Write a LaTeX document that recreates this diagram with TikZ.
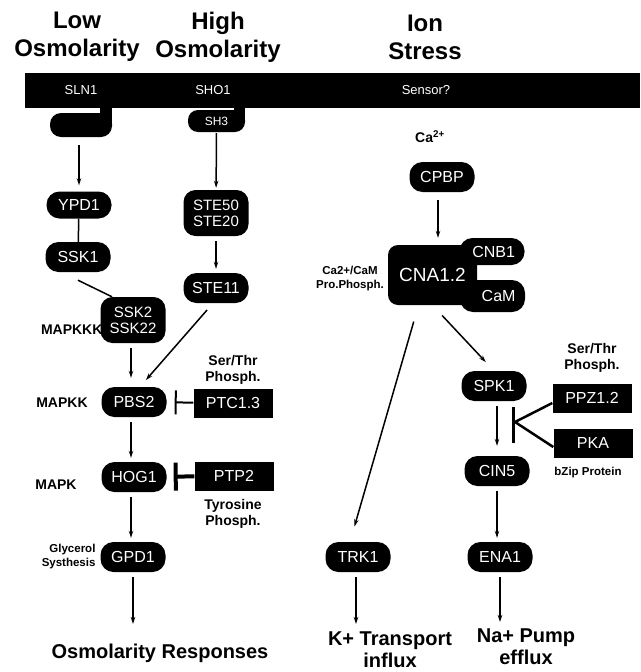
\documentclass[tikz,border=0pt]{standalone}
\usepackage{fontspec}
\setmainfont{Liberation Sans}
\usepackage{tikz}
\usetikzlibrary{shapes,arrows.meta}

\begin{document}
\begin{tikzpicture}[x=1pt,y=-1pt,
    pill/.style={fill=black,text=white,rounded corners=13pt,minimum width=65pt,
                 minimum height=30pt,inner sep=0pt,font=\fontsize{16}{18}\selectfont},
    pilltwo/.style={pill,rounded corners=12pt,minimum height=46pt,align=center,
                 font=\fontsize{15}{16}\selectfont},
    lobe/.style={pill,text width=46pt,inner xsep=9pt,align=right},
    blackbox/.style={fill=black,text=white,minimum width=79pt,minimum height=29pt,
                 inner sep=0pt,font=\fontsize{16}{18}\selectfont},
    bartxt/.style={text=white,font=\fontsize{13}{15}\selectfont},
    headtxt/.style={font=\bfseries\fontsize{24}{28}\selectfont,align=center},
    endtxt/.style={font=\bfseries\fontsize{20}{22}\selectfont,align=center},
    lbl/.style={font=\bfseries\fontsize{14}{16}\selectfont,align=center},
    minorlbl/.style={font=\bfseries\fontsize{11.5}{14}\selectfont,align=center},
    arr/.style={-{Stealth[length=7pt,width=4.5pt]},line width=1.5pt,
                shorten <=5pt,shorten >=4pt},
    link/.style={line width=1.5pt},
    inh/.style={-{Bar[width=24pt]},line width=2pt},
    inhthick/.style={-{Bar[width=28pt]},line width=4pt},
  ]
  \useasboundingbox (0,0) rectangle (640,672);
  \clip (0,0) rectangle (640,672);

% stimulus headings
  \node[headtxt] (lowosm) at (77,37) {Low\\Osmolarity};
  \node[headtxt] (highosm) at (218,37) {High\\Osmolarity};
  \node[headtxt] (ionstress) at (425,37) {Ion\\Stress};

% membrane with sensors
  \fill (25,73) rectangle (640,108);
  \node[bartxt] (sln1) at (81,90) {SLN1};
  \node[bartxt] (sho1) at (213,90) {SHO1};
  \node[bartxt] (sensor) at (426,90) {Sensor?};
  \fill (100,100) rectangle (112,124);
  \node[fill=black,rounded corners=11pt,minimum width=62pt,minimum height=24pt,
        inner sep=0pt] (sln1hook) at (81,125) {};
  \fill (234,100) rectangle (245,121);
  \node[pill,minimum width=57pt,minimum height=22pt,rounded corners=10pt,
        font=\fontsize{12}{14}\selectfont] (sh3) at (216.5,121) {SH3};

% low / high osmolarity branches
  \node[pill,minimum height=27pt] (ypd1) at (79,205) {YPD1};
  \node[pill] (ssk1) at (78,257) {SSK1};
  \node[lbl,anchor=east] (mapkkk) at (106,330) {MAPKKK};
  \node[pilltwo] (ssk2) at (133,320) {SSK2\\SSK22};
  \node[pilltwo] (ste50) at (216,213) {STE50\\STE20};
  \node[pill] (ste11) at (216,288) {STE11};

% MAP kinase cascade
  \node[pill] (pbs2) at (134,402) {PBS2};
  \node[pill] (hog1) at (134,477) {HOG1};
  \node[pill] (gpd1) at (133,557) {GPD1};
  \node[lbl] (mapkk) at (62,403) {MAPKK};
  \node[lbl] (mapk) at (56,485) {MAPK};
  \node[minorlbl,align=right,anchor=east] (glycerol) at (99,557) {Glycerol\\Systhesis};
  \node[blackbox] (ptc13) at (233,403) {PTC1.3};
  \node[blackbox] (ptp2) at (234,476) {PTP2};
  \node[lbl] (serthrl) at (233,370) {Ser/Thr\\Phosph.};
  \node[lbl] (tyrosine) at (233,514) {Tyrosine\\Phosph.};

% ion stress branch
  \node[lbl] (calcium) at (430,137) {Ca\textsuperscript{2+}};
  \node[pill] (cpbp) at (442,177) {CPBP};
  \node[fill=black,text=white,rounded corners=10pt,minimum width=89pt,minimum height=60pt,
        inner sep=0pt,font=\fontsize{19}{21}\selectfont] (cna) at (432.5,275) {CNA1.2};
  \node[lobe,minimum height=27pt] (cnb1) at (492,251.5) {CNB1};
  \node[lobe,minimum height=32pt] (cam) at (492.5,296) {CaM};
  \node[minorlbl] (capro) at (350,279) {Ca2+/CaM\\Pro.Phosph.};
  \node[pill] (spk1) at (494,386) {SPK1};
  \node[pill] (cin5) at (497,471) {CIN5};
  \node[pill] (trk1) at (358,557) {TRK1};
  \node[pill] (ena1) at (500,557) {ENA1};
  \node[blackbox] (ppz12) at (592,398) {PPZ1.2};
  \node[blackbox] (pka) at (593,443) {PKA};
  \node[lbl] (serthrr) at (592,358) {Ser/Thr\\Phosph.};
  \node[minorlbl] (bzip) at (588,473) {bZip Protein};

% responses at bottom
  \node[endtxt] (osmresp) at (160,653) {Osmolarity Responses};
  \node[endtxt] (ktrans) at (390,650) {K+ Transport\\influx};
  \node[endtxt] (napump) at (526,647) {Na+ Pump\\efflux};
  \coordinate (gpdout) at (133,624);
  \coordinate (trkout) at (356,624);
  \coordinate (enaout) at (500,622);

% connectors
  \draw[arr,shorten <=8pt,shorten >=6pt] (ypd1 |- sln1hook.south) -- (ypd1.north);
  \draw[link] (ypd1) -- (ssk1);
  \draw[link] ([yshift=-8pt]ssk1.south) -- ([xshift=-21pt]ssk2.north);
  \draw[arr,shorten <=1pt,shorten >=2pt] (sh3) -- (ste50);
  \draw[arr] (ste50) -- (ste11);
  \draw[arr,shorten <=9pt,shorten >=9pt] ([xshift=-3pt]ste11.south) -- ([xshift=6pt]pbs2.north);
  \draw[arr,shorten >=9pt] ([xshift=-2pt]ssk2.south) -- ([xshift=-3pt]pbs2.north);
  \draw[inh,shorten >=8pt] (ptc13) -- (pbs2);
  \draw[arr] ([xshift=-3pt]pbs2.south) -- ([xshift=-3pt]hog1.north);
  \draw[inhthick,shorten >=7pt] (ptp2) -- (hog1);
  \draw[arr] ([xshift=-3pt]hog1.south) -- ([xshift=-2pt]gpd1.north);
  \draw[arr,shorten >=0pt] (gpd1) -- (gpdout);
  \draw[arr,shorten <=8pt,shorten >=7pt] ([xshift=-4pt]cpbp.south) -- ([xshift=-4pt]cpbp.south |- cna.north);
  \draw[arr,shorten <=17pt,shorten >=16pt] ([xshift=-14pt]cna.south) -- ([xshift=-8pt]trk1.north);
  \draw[arr,shorten <=14pt,shorten >=12pt] (cna.south) -- (spk1.north);
  \draw[arr,shorten >=10pt] ([xshift=3pt]spk1.south) -- (cin5.north);
  \draw[arr] (cin5.south) -- (cin5.south |- ena1.north);
  \draw[arr,shorten >=0pt] (trk1.south -| trkout) -- (trkout);
  \draw[arr,shorten >=0pt] (ena1) -- (enaout);

% phosphatase / kinase block on CIN5
  \coordinate (bartop) at (513,407);
  \coordinate (barbot) at (513,443);
  \coordinate (vtx) at (515,422);
  \draw[line width=3pt] (bartop) -- (barbot);
  \draw[line width=2.5pt] ([yshift=-5pt]ppz12.west) -- (vtx) -- ([yshift=-4pt]pka.west);

\end{tikzpicture}
\end{document}
